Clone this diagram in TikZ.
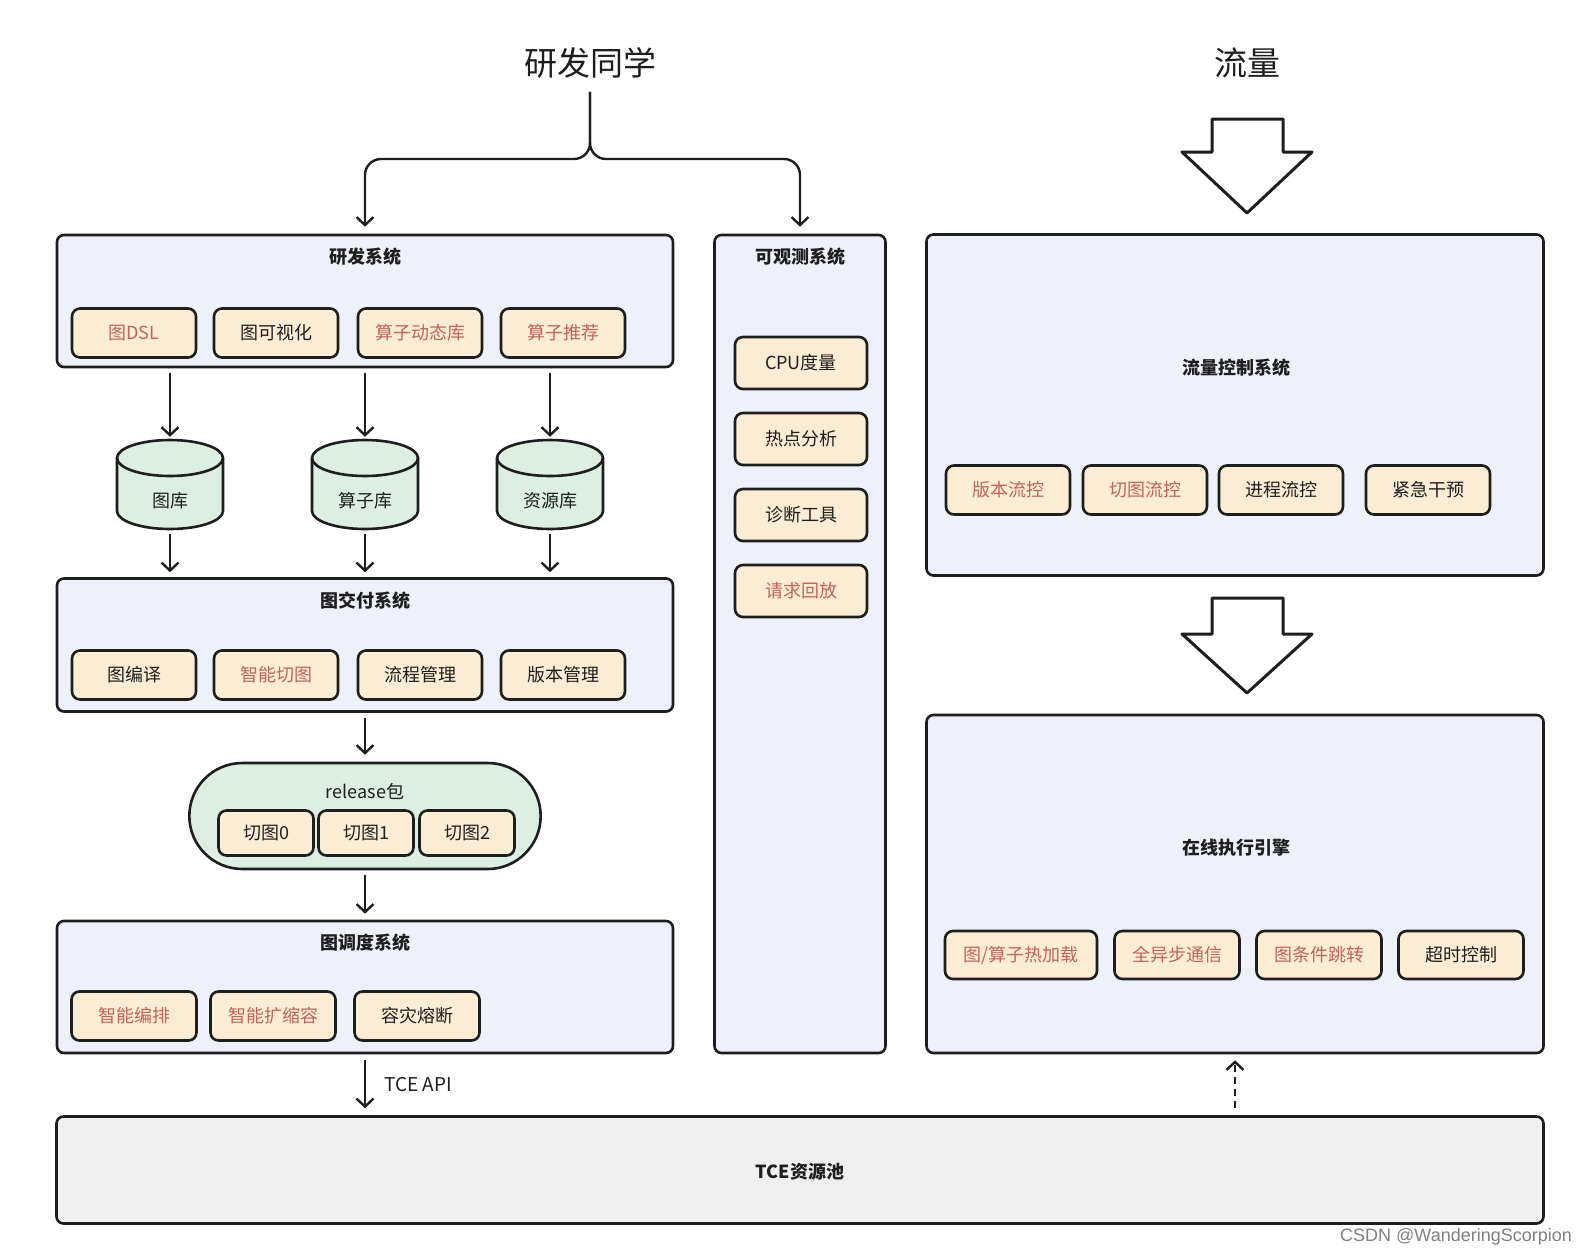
\documentclass[tikz,border=0pt]{standalone}
\usepackage{fontspec}
\setmainfont{Noto Sans CJK SC}
\newfontfamily\markfont{Liberation Sans}
\usepackage{xcolor}
\usepackage{tikz}
\usetikzlibrary{arrows.meta, shapes.geometric, shapes.misc}
\definecolor{ink}{HTML}{1E1E1E}
\definecolor{sysfill}{HTML}{EEF1F9}
\definecolor{modfill}{HTML}{FBEDD3}
\definecolor{hotred}{HTML}{C4625C}
\definecolor{storefill}{HTML}{DCEFE2}
\definecolor{poolfill}{HTML}{EFEFEF}
\tikzstyle{system}=[draw=ink, line width=2.6pt, rounded corners=7pt, fill=sysfill]
\tikzstyle{module}=[draw=ink, line width=2.6pt, rounded corners=8pt, fill=modfill, minimum width=124pt, minimum height=49pt, text=ink, font=\fontsize{18}{20}\selectfont]
\tikzstyle{hot}=[text=hotred]
\tikzstyle{title}=[text=ink, font=\fontsize{18}{20}\selectfont\bfseries]
\tikzstyle{store}=[draw=ink, line width=2.6pt, fill=storefill, line join=round]
\tikzstyle{flow}=[draw=ink, line width=2.4pt, -{Straight Barb[length=8pt, width=17pt]}]
\tikzstyle{bigarrow}=[draw=ink, line width=3pt, fill=white, line join=round]

\begin{document}
\begin{tikzpicture}[x=1pt, y=-1pt]
    \useasboundingbox[fill=white] (0,0) rectangle (1590,1254);
    % people and traffic
    \node[text=ink, font=\fontsize{33}{36}\selectfont] (dev) at (590,63) {研发同学};
    \node[text=ink, font=\fontsize{33}{36}\selectfont] (traffic) at (1247,63) {流量};

    % 研发系统
    \node[system, minimum width=616pt, minimum height=132pt] (rd) at (365,301) {};
    \node[title] (rdt) at (365,257) {研发系统};
    \foreach \i/\x/\t/\c in {1/134/图DSL/hot, 2/276/图可视化/, 3/420/算子动态库/hot, 4/563/算子推荐/hot}
        \node[module, \c] (rd\i) at (\x,333) {\t};

    % libraries
    \foreach \i/\x/\t in {1/170/图库, 2/365/算子库, 3/550/资源库} {
        \draw[store] (\x-53,458) -- (\x-53,511) arc[start angle=180, end angle=360, x radius=53pt, y radius=18pt]
            -- (\x+53,458) arc[start angle=0, end angle=180, x radius=53pt, y radius=18pt] -- cycle;
        \draw[store, fill=none] (\x-53,458) arc[start angle=180, end angle=360, x radius=53pt, y radius=18pt];
        \node[minimum width=107pt, minimum height=89pt, inner sep=0pt] (lib\i) at (\x,484.5) {};
        \node[text=ink, font=\fontsize{18}{20}\selectfont] (lib\i t) at (\x,501) {\t};
    }

    % 图交付系统
    \node[system, minimum width=616pt, minimum height=133pt] (dl) at (365,645) {};
    \node[title] (dlt) at (365,601) {图交付系统};
    \foreach \i/\x/\t/\c in {1/134/图编译/, 2/276/智能切图/hot, 3/420/流程管理/, 4/563/版本管理/}
        \node[module, \c] (dl\i) at (\x,675) {\t};

    % release package
    \node[draw=ink, line width=2.6pt, rounded rectangle, fill=storefill, minimum width=358pt, minimum height=106pt] (pkg) at (365,816) {};
    \node[text=ink, font=\fontsize{18}{20}\selectfont] (pkgt) at (365,791) {release包};
    \foreach \i/\x in {0/266, 1/366, 2/467}
        \node[module, minimum width=95pt, minimum height=45pt] (cut\i) at (\x,833) {切图\i};

    % 图调度系统
    \node[system, minimum width=616pt, minimum height=132pt] (sc) at (365,987) {};
    \node[title] (sct) at (365,943) {图调度系统};
    \foreach \i/\x/\t/\c in {1/134/智能编排/hot, 2/273/智能扩缩容/hot, 3/417/容灾熔断/}
        \node[module, \c, minimum width=125pt] (sc\i) at (\x,1016) {\t};

    % 可观测系统
    \node[system, minimum width=171pt, minimum height=818pt] (ob) at (800,644) {};
    \node[title] (obt) at (800,257) {可观测系统};
    \foreach \i/\y/\t/\c in {1/363/CPU度量/, 2/439/热点分析/, 3/515/诊断工具/, 4/591/请求回放/hot}
        \node[module, \c, minimum width=132pt, minimum height=52pt] (ob\i) at (801,\y) {\t};

    % 流量控制系统
    \node[system, minimum width=617pt, minimum height=341pt] (fc) at (1235,405) {};
    \node[title] (fct) at (1236,368) {流量控制系统};
    \foreach \i/\x/\t/\c in {1/1008/版本流控/hot, 2/1145/切图流控/hot, 3/1281/进程流控/, 4/1428/紧急干预/}
        \node[module, \c] (fc\i) at (\x,490) {\t};

    % 在线执行引擎
    \node[system, minimum width=617pt, minimum height=338pt] (en) at (1235,884) {};
    \node[title] (ent) at (1236,848) {在线执行引擎};
    \foreach \i/\x/\w/\t/\c in {1/1021/152/{图/算子热加载}/hot, 2/1177/125/全异步通信/hot, 3/1319/125/图条件跳转/hot, 4/1461/125/超时控制/}
        \node[module, \c, minimum width=\w pt, minimum height=48pt] (en\i) at (\x,955) {\t};

    % TCE资源池
    \node[system, fill=poolfill, minimum width=1487pt, minimum height=107pt] (pool) at (800,1170) {};
    \node[title] (poolt) at (800,1172) {TCE资源池};

    % connectors
    \draw[flow, rounded corners=16pt, shorten <=10pt, shorten >=7pt] (dev.south) -- (590,159) -| (rd.north);
    \draw[flow, rounded corners=16pt, shorten <=10pt, shorten >=7pt] (dev.south) -- (590,159) -| (ob.north);
    \foreach \i in {1,2,3} {
        \draw[flow, shorten <=5pt, shorten >=3pt] (rd.south -| lib\i.north) -- (lib\i.north);
        \draw[flow, shorten <=5pt, shorten >=5pt] (lib\i.south) -- (dl.north -| lib\i.south);
    }
    \draw[flow, shorten <=5pt, shorten >=7pt] (dl.south) -- (pkg.north);
    \draw[flow, shorten <=5pt, shorten >=6pt] (pkg.south) -- (sc.north);
    \draw[flow, shorten <=6pt, shorten >=7pt] (sc.south) -- (pool.north -| sc.south)
        node[midway, right=15pt, text=ink, font=\fontsize{19}{21}\selectfont] {TCE API};
    \draw[flow, dashed, dash pattern=on 7pt off 5pt, shorten <=7pt, shorten >=6pt] (pool.north -| en.south) -- (en.south);

    % block arrows
    \draw[bigarrow] (1212,119) -- (1283,119) -- (1283,152) -- (1312,152) -- (1247,213) -- (1182,152) -- (1212,152) -- cycle;
    \draw[bigarrow] (1212,598) -- (1283,598) -- (1283,634) -- (1312,634) -- (1247,693) -- (1182,634) -- (1212,634) -- cycle;

    \node[text=gray, font=\markfont\fontsize{18}{20}\selectfont] (mark) at (1456,1237) {CSDN @WanderingScorpion};
\end{tikzpicture}
\end{document}
